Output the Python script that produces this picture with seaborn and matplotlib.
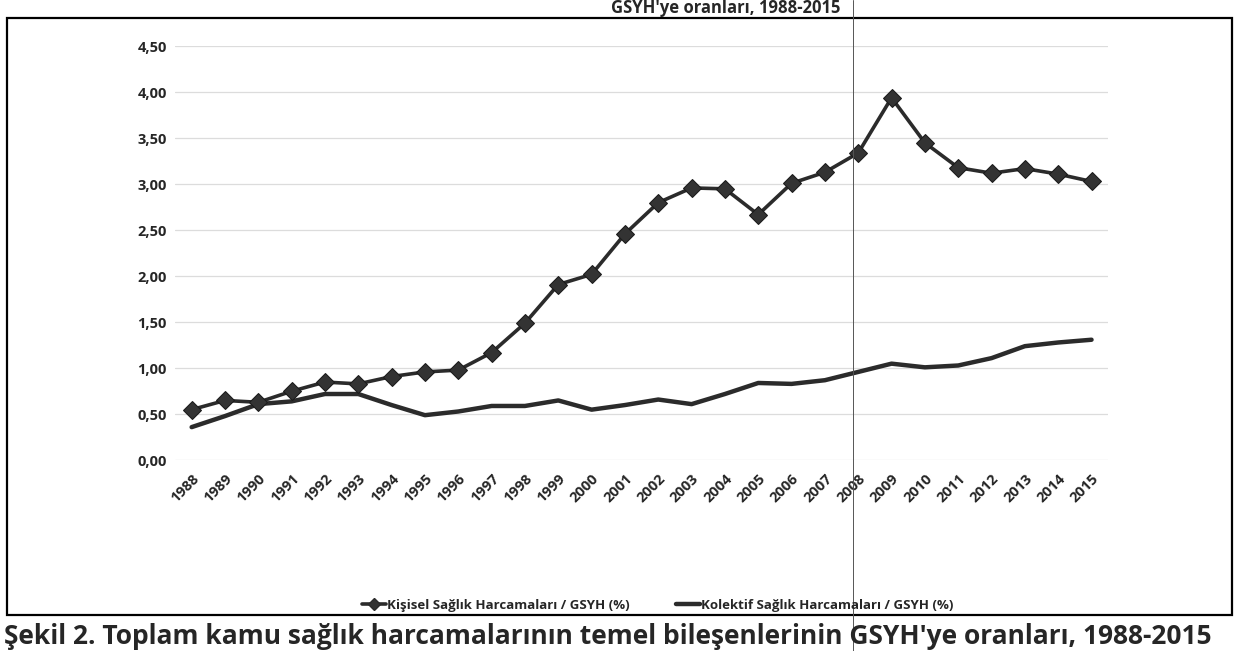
import pandas as pd
import matplotlib.pyplot as plt
import matplotlib.patches as mpatches
from matplotlib.lines import Line2D
import seaborn as sns

years = list(range(1988, 2016))
kisisel = [0.55, 0.65, 0.63, 0.75, 0.85, 0.83, 0.91, 0.96, 0.98, 1.17, 1.49, 1.91, 2.02, 2.46,
           2.80, 2.96, 2.95, 2.67, 3.01, 3.13, 3.34, 3.94, 3.45, 3.18, 3.12, 3.17, 3.11, 3.03]
kolektif = [0.36, 0.48, 0.61, 0.64, 0.72, 0.72, 0.60, 0.49, 0.53, 0.59, 0.59, 0.65, 0.55, 0.60,
            0.66, 0.61, 0.72, 0.84, 0.83, 0.87, 0.96, 1.05, 1.01, 1.03, 1.11, 1.24, 1.28, 1.31]
ytick_vals = [0, 0.5, 1.0, 1.5, 2.0, 2.5, 3.0, 3.5, 4.0, 4.5]
label_kis = "Kişisel Sağlık Harcamaları / GSYH (%)"
label_kol = "Kolektif Sağlık Harcamaları / GSYH (%)"
title = "GSYH'ye oranları, 1988-2015"
caption = "Şekil 2. Toplam kamu sağlık harcamalarının temel bileşenlerinin GSYH'ye oranları, 1988-2015"

df = pd.DataFrame({"yil": years, "kis": kisisel, "kol": kolektif})

sns.set_style("white")
plt.rcParams["font.family"] = ["Open Sans", "DejaVu Sans"]

fig = plt.figure(figsize=(12.41, 6.51), dpi=100)
ax = fig.add_axes([0.141, 0.293, 0.752, 0.636])

line_col = "#2b2b2b"
sns.lineplot(data=df, x="yil", y="kol", ax=ax, color=line_col, lw=3.2)
sns.lineplot(data=df, x="yil", y="kis", ax=ax, color=line_col, lw=2.6,
             marker="D", markersize=9, markeredgecolor="#1a1a1a", markerfacecolor="#333333")

ax.set_xlim(1987.5, 2015.5)
ax.set_ylim(0, 4.5)
ax.set_yticks(ytick_vals)
ax.set_yticklabels([f"{v:.2f}".replace(".", ",") for v in ytick_vals],
                   fontsize=10.5, fontweight="bold")
ax.set_xticks(years)
ax.set_xticklabels([str(y) for y in years], rotation=45, ha="right",
                   rotation_mode="anchor", fontsize=10.5, fontweight="bold")
ax.tick_params(axis="y", length=0, pad=6)
ax.tick_params(axis="x", length=0, pad=8)
ax.set_xlabel("")
ax.set_ylabel("")
ax.grid(axis="y", color="#dcdcdc", lw=0.9)
ax.set_axisbelow(True)
for s in ax.spines.values():
    s.set_visible(False)

handles = [
    Line2D([], [], color=line_col, lw=2.6, marker="D", markersize=6,
           markerfacecolor="#333333"),
    Line2D([], [], color=line_col, lw=3.2),
]
fig.legend(handles, [label_kis, label_kol], loc="center", bbox_to_anchor=(0.53, 0.07),
           ncol=2, frameon=False, handlelength=1.8, handletextpad=0.1, columnspacing=3.5,
           prop={"size": 9.5, "weight": "bold"})

# outer frame of the figure box
fig.patches.append(mpatches.Rectangle((0.006, 0.055), 0.987, 0.918, transform=fig.transFigure,
                                      fill=False, edgecolor="black", lw=1.6))
# scan fold line
fig.add_artist(Line2D([0.687, 0.687], [0.0, 1.0], transform=fig.transFigure,
                      color="#555555", lw=0.7))

fig.text(0.677, 0.988, title, ha="right", va="center", fontsize=12, fontweight="bold")
fig.text(0.003, 0.022, caption, ha="left", va="center", fontsize=19, fontweight="bold")

fig.savefig("out.png", dpi=100)
